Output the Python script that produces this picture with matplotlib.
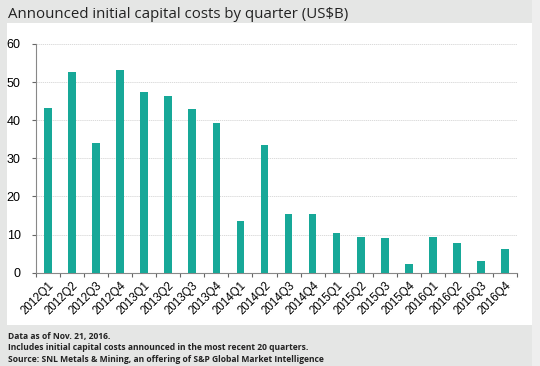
import matplotlib.pyplot as plt
from matplotlib.patches import Rectangle

quarters = ["2012Q1", "2012Q2", "2012Q3", "2012Q4",
            "2013Q1", "2013Q2", "2013Q3", "2013Q4",
            "2014Q1", "2014Q2", "2014Q3", "2014Q4",
            "2015Q1", "2015Q2", "2015Q3", "2015Q4",
            "2016Q1", "2016Q2", "2016Q3", "2016Q4"]
costs = [43.2, 52.7, 33.9, 53.2,
         47.4, 46.3, 43.0, 39.4,
         13.6, 33.6, 15.3, 15.5,
         10.3, 9.4, 9.2, 2.4,
         9.3, 7.8, 3.2, 6.3]

W, H = 540, 366
fig = plt.figure(figsize=(W / 100, H / 100), dpi=100)
fig.patch.set_facecolor("#e5e6e5")

# white panel behind the chart
fig.add_artist(Rectangle((7 / W, 1 - 325 / H), (532 - 7) / W, (325 - 23) / H,
                         transform=fig.transFigure, facecolor="white",
                         edgecolor="none", zorder=0))
fig.add_artist(Rectangle((532 / W, 0), 8 / W, 1, transform=fig.transFigure,
                         facecolor="#eeeeee", edgecolor="none", zorder=0))

ax = fig.add_axes([36 / W, 1 - 272.7 / H, (517 - 36) / W, (272.7 - 44) / H])
ax.set_facecolor("none")

x = range(len(quarters))
ax.bar(x, costs, width=0.32, color="#17a898", zorder=3)

ax.set_xlim(-0.5, len(quarters) - 0.5)
ax.set_ylim(0, 60)
ax.set_yticks(range(0, 61, 10))
ax.yaxis.grid(True, color="#d4d4d4", linestyle=(0, (1.5, 1)), linewidth=0.6)
ax.set_axisbelow(True)

ax.set_xticks([i - 0.5 for i in range(len(quarters) + 1)], minor=False)
ax.set_xticklabels([])
ax.set_xticks(list(x), minor=True)
ax.set_xticklabels(quarters, minor=True, rotation=45, ha="right",
                   rotation_mode="anchor", fontsize=8.3,
                   fontfamily="Liberation Sans")
ax.tick_params(axis="x", which="minor", length=0, pad=5)
ax.tick_params(axis="x", which="major", length=3, color="#666666",
               direction="out")
ax.tick_params(axis="y", length=3, color="#666666", labelsize=9,
               pad=8)
for lab in ax.get_yticklabels():
    lab.set_fontfamily("Liberation Sans")

for s in ["top", "right"]:
    ax.spines[s].set_visible(False)
for s in ["left", "bottom"]:
    ax.spines[s].set_color("#888888")
    ax.spines[s].set_linewidth(0.8)

fig.text(8 / W, 1 - 14 / H, "Announced initial capital costs by quarter (US$B)",
         fontsize=10.8, fontfamily="Open Sans", color="#222222", va="center")

notes = ["Data as of Nov. 21, 2016.",
         "Includes initial capital costs announced in the most recent 20 quarters.",
         "Source: SNL Metals & Mining, an offering of S&P Global Market Intelligence"]
for i, t in enumerate(notes):
    fig.text(8 / W, 1 - (336 + i * 11.6) / H, t, fontsize=6.1,
             fontfamily="Open Sans", fontweight="bold", color="#222222",
             va="center")

fig.savefig("out.png", dpi=100, facecolor=fig.get_facecolor())
